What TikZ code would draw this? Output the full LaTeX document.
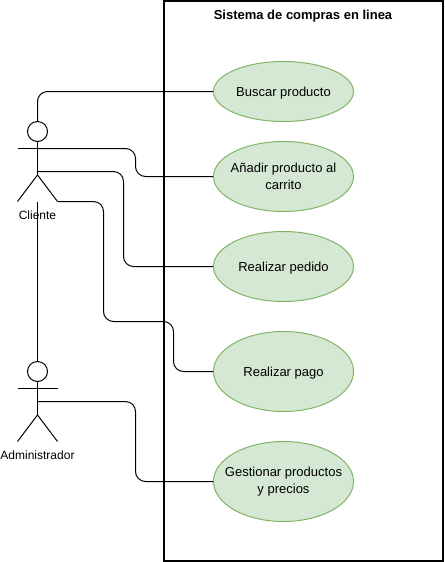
\documentclass[tikz,border=0pt]{standalone}
\usepackage{fontspec}
\setmainfont{Liberation Sans}
\usetikzlibrary{shapes.geometric}
\definecolor{V}{RGB}{213, 232, 212}
\definecolor{VB}{RGB}{130, 179, 102}
\tikzset{
	caso/.style={ellipse, draw=VB, fill=V, line width=0.75pt, minimum width=105pt, inner sep=-16pt, align=center, font=\fontsize{9.75}{12.75}\selectfont, execute at begin node={\rule{0pt}{9.5pt}}},
	cabeza/.style={circle, draw, fill=white, line width=0.75pt, minimum size=15pt, inner sep=0pt},
	texto/.style={font=\fontsize{9}{11}\selectfont, inner sep=0pt},
	enlace/.style={line width=0.75pt, rounded corners=7.5pt},
	figura/.style={line width=0.75pt}
}

\begin{document}
\begin{tikzpicture}[x=0.75pt, y=-0.75pt]
	\useasboundingbox (0,0) rectangle (444,562);

	% Sistema
	\coordinate (esquinaA) at (163.5,1);
	\coordinate (esquinaB) at (443,561);

	% Casos de uso
	\node[caso, minimum height=45pt] (buscar) at (283.5,91.5) {Buscar producto};
	\node[caso, minimum height=52.5pt] (anadir) at (283.5,176.5) {Añadir producto al\\carrito};
	\node[caso, minimum height=52.5pt] (pedido) at (283.5,266.5) {Realizar pedido};
	\node[caso, minimum height=60pt] (pago) at (283.5,371.5) {Realizar pago};
	\node[caso, minimum height=60pt] (gestionar) at (283.5,481.5) {Gestionar productos\\y precios};

	% Cliente
	\node[cabeza] (cliente) at (37.5,131.5) {};
	\coordinate (clienteBrazo) at (37.5,148.5);
	\coordinate (clienteCentro) at (37.5,171.5);
	\coordinate (clienteCadera) at (37.5,175);
	\coordinate (clientePieI) at (17.5,201.5);
	\coordinate (clientePieD) at (57.5,201.5);
	\draw[figura] (cliente.south) -- (clienteCadera);
	\draw[figura] (17.5,148.5) -- (57.5,148.5);
	\draw[figura] (clientePieI) -- (clienteCadera) -- (clientePieD);
	\node[texto] (nombreCliente) at (37.5,215.5) {Cliente};

	% Administrador
	\node[cabeza] (admin) at (37.5,371.5) {};
	\coordinate (adminBrazo) at (37.5,401.5);
	\coordinate (adminCadera) at (37.5,415);
	\coordinate (adminPieI) at (17.5,441.5);
	\coordinate (adminPieD) at (57.5,441.5);
	\draw[figura] (admin.south) -- (adminCadera);
	\draw[figura] (17.5,388.5) -- (57.5,388.5);
	\draw[figura] (adminPieI) -- (adminCadera) -- (adminPieD);
	\node[texto] (nombreAdmin) at (37.5,455.5) {Administrador};

	% Enlaces
	\draw[enlace] (cliente.north) |- (buscar.west);
	\draw[enlace] (clienteBrazo) -- (135.5,148.5) -- (135.5,176.5) -- (anadir.west);
	\draw[enlace] (clienteCentro) -- (123.5,171.5) -- (123.5,266.5) -- (pedido.west);
	\draw[enlace] (clientePieD) -- (103.5,201.5) -- (103.5,321.5) -- (173.5,321.5) -- (173.5,371.5) -- (pago.west);
	\draw[figura] (37.5,201.5) -- (admin.north);
	\draw[enlace] (adminBrazo) -- (135.5,401.5) -- (135.5,481.5) -- (gestionar.west);

	% Marco del sistema
	\draw[line width=1.5pt] (esquinaA) rectangle (esquinaB);
	\node[font=\bfseries\fontsize{9.75}{12}\selectfont, inner sep=0pt] (titulo) at (303,16.5) {Sistema de compras en linea};
\end{tikzpicture}
\end{document}
